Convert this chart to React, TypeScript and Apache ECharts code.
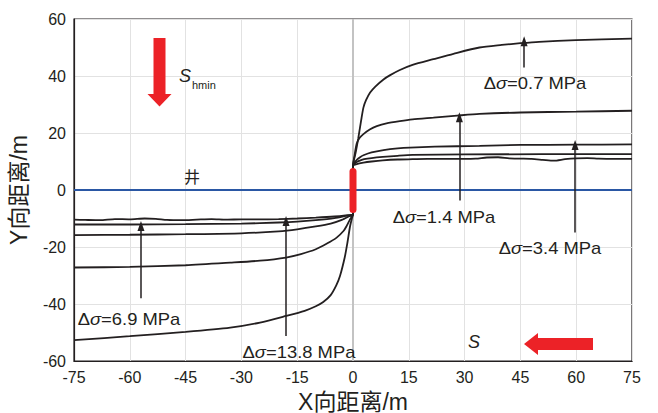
import React, { useEffect, useRef } from "react";
import * as echarts from "echarts";

// ---- data ----
const xAxisRange = [-75, 75];
const yAxisRange = [-60, 60];
const xInterval = 15;
const yInterval = 20;

// fracture paths, one per stress difference (x, y in m)
const curve07: [number, number][] = [
  [-75, -52.7], [-60, -51.3], [-45, -49.8], [-33, -48.3], [-25, -46.5], [-18, -44.2], [-13, -42.4],
  [-10, -40.8], [-8, -39.3], [-6, -36.9], [-4.5, -33.5], [-3.5, -30.2], [-2.2, -23.5], [-1.5, -18.5],
  [-0.8, -12.8], [-0.3, -10], [0, -8.5],
  [0, 8.5], [0.7, 13], [1.4, 18], [2.2, 24.5], [2.8, 28.9], [3.5, 31.5], [4.6, 34.2], [6, 36.3],
  [8.2, 38.8], [10, 40.3], [12.6, 42.1], [16, 43.9], [21.6, 45.9], [27, 47.8], [34, 50], [40, 50.9],
  [45, 51.5], [50, 52], [60, 52.6], [75, 53.1],
];
const curve14: [number, number][] = [
  [-75, -27.2], [-60, -27], [-45, -26.4], [-33, -25.5], [-25, -24.8], [-18, -23.7], [-14, -22.5],
  [-10, -20.8], [-7, -18.8], [-4.4, -16.7], [-2.5, -14.3], [-1.7, -12.6], [-0.8, -10.3], [0, -8.5],
  [0, 8.5], [0.4, 12], [1, 16.3], [1.8, 18.3], [2.8, 19.6], [4.5, 21.2], [6.4, 22.4], [9, 23.4],
  [12.6, 24.2], [16, 24.8], [21.6, 25.4], [28, 26.1], [34, 26.7], [45, 27.2], [60, 27.5], [75, 27.8],
];
const curve34: [number, number][] = [
  [-75, -15.8], [-60, -15.7], [-45, -15.5], [-30, -15.2], [-20, -14.5], [-15, -13.8], [-10, -12.8],
  [-6, -11.8], [-3, -10.5], [-1, -9.2], [0, -8.5],
  [0, 8.5], [0.5, 9.8], [1, 10.6], [2, 11.6], [2.8, 12.2], [5, 13.2], [8.2, 14.0], [12, 14.6],
  [15.3, 14.9], [22, 15.2], [34, 15.5], [45, 15.8], [60, 15.9], [75, 16.0],
];
const curve69: [number, number][] = [
  [-75, -12.1], [-60, -12.1], [-45, -12], [-30, -11.8], [-20, -11.4], [-15, -11.1], [-10, -10.6],
  [-5, -9.9], [-2, -9.1], [0, -8.5],
  [0, 8.5], [0.5, 9.3], [1, 9.8], [2, 10.4], [3, 10.8], [5, 11.2], [8, 11.6], [12, 12.0], [16, 12.3],
  [30, 12.5], [75, 12.6],
];
const curve138: [number, number][] = [
  [-75, -10.4], [-72, -10.5], [-68, -10.6], [-64, -10.2], [-60, -10.3], [-56, -10.0], [-53, -10.1],
  [-50, -10.5], [-46, -10.6], [-42, -10.4], [-38, -10.2], [-34, -10.4], [-30, -10.3], [-25, -10.3],
  [-20, -10.2], [-15, -10.0], [-10, -9.7], [-5, -9.3], [-2, -8.9], [0, -8.5],
  [0, 8.5], [1, 9.1], [2.8, 9.6], [5, 10.0], [8, 10.4], [12, 10.7], [16, 10.8], [20, 10.9],
  [25, 10.9], [30, 10.9], [33, 11.0], [36, 11.4], [39, 11.5], [42, 11.1], [45, 11.0], [48, 10.9],
  [51, 10.6], [54, 10.3], [57, 10.8], [60, 11.1], [63, 11.2], [66, 11.0], [70, 10.9], [75, 10.9],
];

// annotation arrows: x, tail y, tip y
const arrowX = [46, 28.6, 59.7, -57, -18];
const arrowTail = [43, -3.7, -14.9, -38, -51.2];
const arrowTip = [52.2, 25.5, 15.8, -12.6, -10.9];
const arrowLabels = ["0.7", "1.4", "3.4", "6.9", "13.8"];

const wellLine: [number, number][] = [[-75, 0], [75, 0]];
const wellSegment: [number, number][] = [[0, -6.8], [0, 6.5]];
const centerLine: [number, number][] = [[0, -60], [0, 60]];

const INK = "#231f20";
const RED = "#ec2227";
const FONT = "'Liberation Sans', Arial, 'Noto Sans CJK SC', sans-serif";

export default function App() {
  const ref = useRef<HTMLDivElement>(null);
  useEffect(() => {
    if (!ref.current) return;
    const chart = echarts.init(ref.current, undefined, { renderer: "svg" });

    const curves = [curve07, curve14, curve34, curve69, curve138];
    const curveSeries = curves.map((d, i) => ({
      type: "line",
      data: d,
      symbol: "none",
      smooth: 0.25,
      silent: true,
      z: 4,
      lineStyle: { color: INK, width: 1.8 },
      markLine:
        i === 0
          ? {
              silent: true,
              symbol: ["none", "triangle"],
              symbolSize: [7, 10],
              label: { show: false },
              lineStyle: { color: INK, width: 1.5, type: "solid" },
              data: arrowX.map((x, k) => [
                { coord: [x, arrowTail[k]] },
                { coord: [x, arrowTip[k]] },
              ]),
            }
          : undefined,
    }));

    const labelPos = [
      [535, 83],
      [444, 217],
      [550, 248],
      [129, 319],
      [299, 352],
    ];
    const labelTexts = arrowLabels.map((v, k) => ({
      type: "text",
      x: labelPos[k][0],
      y: labelPos[k][1],
      scaleX: 1.15,
      z: 10,
      style: {
        text: `{a|Δ}{b|σ}{a|=${v} MPa}`,
        align: "center",
        verticalAlign: "middle",
        fill: INK,
        rich: {
          a: { fontSize: 16, fontFamily: FONT, fill: INK },
          b: { fontSize: 16, fontFamily: FONT, fontStyle: "italic", fill: INK },
        },
      },
    }));

    chart.setOption({
      animation: false,
      grid: {
        left: 74,
        right: 26,
        top: 19,
        bottom: 52,
        show: true,
        borderColor: INK,
        borderWidth: 1.2,
        backgroundColor: "transparent",
        outerBoundsMode: "none",
        containLabel: false,
      },
      xAxis: {
        type: "value",
        min: xAxisRange[0],
        max: xAxisRange[1],
        interval: xInterval,
        name: "X向距离/m",
        nameLocation: "middle",
        nameGap: 29,
        nameTextStyle: { fontSize: 23, fontFamily: FONT, color: INK },
        axisLine: { onZero: false, lineStyle: { color: INK, width: 1.2 } },
        axisTick: { show: false },
        axisLabel: { fontSize: 16, fontFamily: FONT, color: INK, margin: 8 },
        splitLine: { show: true, lineStyle: { color: "#e2e2e2", width: 1 } },
      },
      yAxis: {
        type: "value",
        min: yAxisRange[0],
        max: yAxisRange[1],
        interval: yInterval,
        name: "Y向距离/m",
        nameLocation: "middle",
        nameGap: 44,
        nameTextStyle: { fontSize: 23, fontFamily: FONT, color: INK },
        axisLine: { onZero: false, lineStyle: { color: INK, width: 1.2 } },
        axisTick: { show: false },
        axisLabel: { fontSize: 16, fontFamily: FONT, color: INK, margin: 8 },
        splitLine: { show: true, lineStyle: { color: "#e2e2e2", width: 1 } },
      },
      series: [
        {
          type: "line",
          data: centerLine,
          symbol: "none",
          silent: true,
          z: 1,
          lineStyle: { color: "#c3c3c3", width: 2 },
        },
        {
          type: "line",
          data: wellLine,
          symbol: "none",
          silent: true,
          z: 3,
          lineStyle: { color: "#2a57a4", width: 2.2 },
        },
        ...curveSeries,
        {
          type: "line",
          data: wellSegment,
          symbol: "none",
          silent: true,
          z: 6,
          lineStyle: { color: RED, width: 7, cap: "round" },
        },
      ],
      graphic: [
        // S_hmin arrow (pointing down)
        {
          type: "polygon",
          z: 10,
          shape: {
            points: [
              [153.5, 38], [165.5, 38], [165.5, 94], [171.5, 94], [159.5, 106.5], [147.5, 94], [153.5, 94],
            ],
          },
          style: { fill: RED },
        },
        // S arrow (pointing left)
        {
          type: "polygon",
          z: 10,
          shape: {
            points: [
              [593, 338], [593, 350], [538, 350], [538, 355], [524, 344], [538, 333], [538, 338],
            ],
          },
          style: { fill: RED },
        },
        {
          type: "text",
          x: 185,
          y: 76,
          z: 10,
          style: {
            text: "S",
            align: "center",
            verticalAlign: "middle",
            fontSize: 18,
            fontStyle: "italic",
            fontFamily: FONT,
            fill: INK,
          },
        },
        {
          type: "text",
          x: 192,
          y: 85,
          z: 10,
          style: {
            text: "hmin",
            align: "left",
            verticalAlign: "middle",
            fontSize: 11,
            fontFamily: FONT,
            fill: INK,
          },
        },
        {
          type: "text",
          x: 474,
          y: 342,
          z: 10,
          style: {
            text: "S",
            align: "center",
            verticalAlign: "middle",
            fontSize: 18,
            fontStyle: "italic",
            fontFamily: FONT,
            fill: INK,
          },
        },
        {
          type: "text",
          x: 192,
          y: 176,
          z: 10,
          style: {
            text: "井",
            align: "center",
            verticalAlign: "middle",
            fontSize: 16,
            fontFamily: "'Noto Sans CJK SC', sans-serif",
            fill: INK,
          },
        },
        ...labelTexts,
      ],
    });
    return () => chart.dispose();
  }, []);
  return <div ref={ref} style={{ width: 658, height: 413, position: "absolute", left: 0, top: 0 }} />;
}
